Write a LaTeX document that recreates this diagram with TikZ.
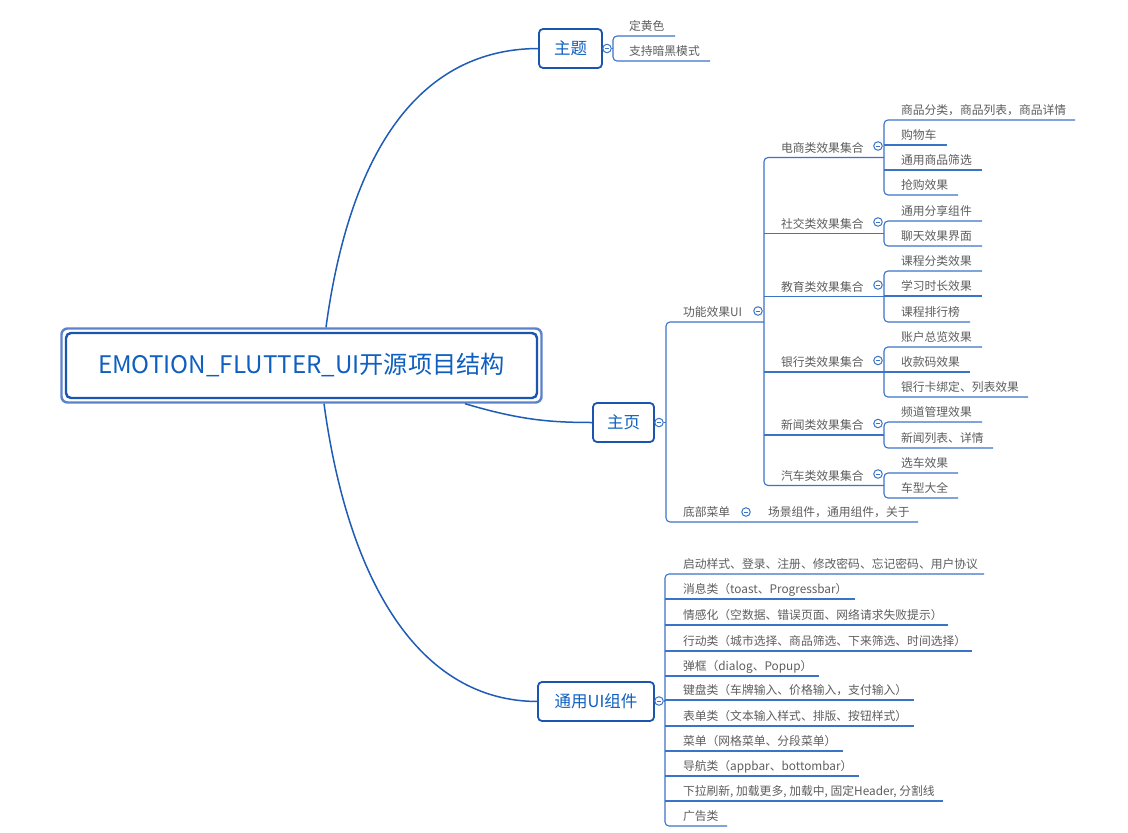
\documentclass[tikz,border=0pt]{standalone}
\usepackage{fontspec}
\setmainfont{Noto Sans CJK SC}
\usetikzlibrary{fit}
\definecolor{lineblue}{HTML}{3A74C8}
\definecolor{curveblue}{HTML}{1F5CB5}
\definecolor{topicblue}{HTML}{1A55B0}
\definecolor{textblue}{HTML}{0F5FC0}
\definecolor{leafgray}{HTML}{5E5E5E}
\definecolor{outerblue}{HTML}{5B82CA}
\newcommand\leafnode[5]{\node[leaf] (#1) at (#2,#3-5.2) {#5}; \coordinate (#1-e) at (#4,#3);}
\newcommand\catnode[3]{\node[leaf] (#1) at (781,#2-5.2) {#3}; \node[tog] (#1-t) at (878,#2-11.5) {}; \coordinate (#1-e) at (884,#2);}
\begin{document}
\begin{tikzpicture}[x=1pt,y=-1pt,
  ln/.style={draw=lineblue,line width=1.1pt},
  br/.style={ln,rounded corners=4pt},
  cv/.style={draw=curveblue,line width=1.5pt},
  leaf/.style={anchor=base west,inner sep=0pt,outer sep=0pt,text=leafgray,font=\fontsize{11.8}{14}\selectfont},
  topic/.style={draw=topicblue,line width=1.8pt,rounded corners=4pt,fill=white,text=textblue,font=\fontsize{16.5}{20}\selectfont,minimum height=39pt,inner sep=0pt,outer sep=0pt},
  tog/.style={circle,draw=lineblue,line width=1pt,fill=white,minimum size=8.5pt,inner sep=0pt,
     path picture={\draw[lineblue,line width=0.9pt] ([xshift=-2.3pt]path picture bounding box.center) -- ([xshift=2.3pt]path picture bounding box.center);}},
]
\useasboundingbox[fill=white] (0,0) rectangle (1128,833);

% root
\node[draw=topicblue,line width=2.4pt,rounded corners=5pt,fill=white,minimum width=471pt,minimum height=65pt,inner sep=0pt,outer sep=0pt,text=textblue,font=\fontsize{24.2}{28}\selectfont] (root) at (301.5,365.5) {EMOTION\_FLUTTER\_UI开源项目结构};
\node[fit=(root),inner sep=4.5pt,draw=outerblue,line width=2.4pt,rounded corners=6pt] (rootframe) {};

% topics
\node[topic,minimum width=63pt] (zt) at (570.5,48.5) {主题};
\node[topic,minimum width=61pt] (zy) at (623.5,422.5) {主页};
\node[topic,minimum width=116pt] (ty) at (596,701.5) {通用UI组件};

% curves
\draw[cv] ([xshift=24.5pt]rootframe.north) .. controls (350,150) and (420,48.5) .. (zt.west);
\draw[cv] ([xshift=163.5pt]rootframe.south) .. controls (520,420) and (550,422.5) .. (zy.west);
\draw[cv] ([xshift=22.5pt]rootframe.south) .. controls (348,580) and (418,701.5) .. (ty.west);

% toggles of topics
\node[tog] (zt-t) at (607,48.5) {};
\node[tog] (zy-t) at (659,422.5) {};
\node[tog] (ty-t) at (659,701) {};

% bracket x coordinates
\coordinate (b-zt) at (613,0);
\coordinate (b-zy) at (666,0);
\coordinate (b-gn) at (764,0);
\coordinate (b-cat) at (884,0);
\coordinate (b-ty) at (665,0);

% ===== 主题 =====
\leafnode{zt1}{629}{36}{675}{定黄色}
\leafnode{zt2}{629}{61}{710}{支持暗黑模式}
\draw[ln] (zt-t.east) -- (zt-t.east -| b-zt);
\draw[br] (zt1-e) -- (zt1-e -| b-zt) -- (zt2-e -| b-zt) -- (zt2-e);

% ===== 主页 =====
\node[leaf] (gn) at (683,322-5.2) {功能效果UI};
\node[tog] (gn-t) at (758,311) {};
\coordinate (gn-e) at (764,322);
\node[leaf] (db) at (683,522-5.2) {底部菜单};
\node[tog] (db-t) at (746,512) {};
\node[leaf] (db1) at (768,522-5.2) {场景组件，通用组件，关于};
\coordinate (db-e) at (918,522);
\draw[ln] (zy-t.east) -- (zy-t.east -| b-zy);
\draw[br] (gn-e) -- (gn-e -| b-zy) -- (db-e -| b-zy) -- (db-e);

% categories
\catnode{ds}{157.5}{电商类效果集合}
\catnode{sj}{233.5}{社交类效果集合}
\catnode{jy}{296.5}{教育类效果集合}
\catnode{yh}{372}{银行类效果集合}
\catnode{xw}{435}{新闻类效果集合}
\catnode{qc}{485.5}{汽车类效果集合}
\draw[br] (ds-e) -- (ds-e -| b-gn) -- (qc-e -| b-gn) -- (qc-e);
\foreach \c in {sj,jy,yh,xw} \draw[ln] (\c-e -| b-gn) -- (\c-e);

% 电商
\leafnode{ds1}{901}{120}{1075}{商品分类，商品列表，商品详情}
\leafnode{ds2}{901}{145}{947}{购物车}
\leafnode{ds3}{901}{170}{982}{通用商品筛选}
\leafnode{ds4}{901}{195}{958}{抢购效果}
\draw[br] (ds1-e) -- (ds1-e -| b-cat) -- (ds4-e -| b-cat) -- (ds4-e);
\foreach \c in {ds2,ds3} \draw[ln] (\c-e -| b-cat) -- (\c-e);
% 社交
\leafnode{sj1}{901}{221}{982}{通用分享组件}
\leafnode{sj2}{901}{246}{982}{聊天效果界面}
\draw[br] (sj1-e) -- (sj1-e -| b-cat) -- (sj2-e -| b-cat) -- (sj2-e);
% 教育
\leafnode{jy1}{901}{271}{982}{课程分类效果}
\leafnode{jy2}{901}{296}{982}{学习时长效果}
\leafnode{jy3}{901}{322}{970}{课程排行榜}
\draw[br] (jy1-e) -- (jy1-e -| b-cat) -- (jy3-e -| b-cat) -- (jy3-e);
\draw[ln] (jy2-e -| b-cat) -- (jy2-e);
% 银行
\leafnode{yh1}{901}{347}{982}{账户总览效果}
\leafnode{yh2}{901}{372}{970}{收款码效果}
\leafnode{yh3}{901}{397}{1028}{银行卡绑定、列表效果}
\draw[br] (yh1-e) -- (yh1-e -| b-cat) -- (yh3-e -| b-cat) -- (yh3-e);
\draw[ln] (yh2-e -| b-cat) -- (yh2-e);
% 新闻
\leafnode{xw1}{901}{422}{982}{频道管理效果}
\leafnode{xw2}{901}{448}{993}{新闻列表、详情}
\draw[br] (xw1-e) -- (xw1-e -| b-cat) -- (xw2-e -| b-cat) -- (xw2-e);
% 汽车
\leafnode{qc1}{901}{473}{958}{选车效果}
\leafnode{qc2}{901}{498}{958}{车型大全}
\draw[br] (qc1-e) -- (qc1-e -| b-cat) -- (qc2-e -| b-cat) -- (qc2-e);

% ===== 通用UI组件 =====
\leafnode{ty1}{683}{574}{984}{启动样式、登录、注册、修改密码、忘记密码、用户协议}
\leafnode{ty2}{683}{599}{855}{消息类（toast、Progressbar）}
\leafnode{ty3}{683}{625}{948}{情感化（空数据、错误页面、网络请求失败提示）}
\leafnode{ty4}{683}{651}{972}{行动类（城市选择、商品筛选、下来筛选、时间选择）}
\leafnode{ty5}{683}{676}{819}{弹框（dialog、Popup）}
\leafnode{ty6}{683}{700}{914}{键盘类（车牌输入、价格输入，支付输入）}
\leafnode{ty7}{683}{726}{914}{表单类（文本输入样式、排版、按钮样式）}
\leafnode{ty8}{683}{751}{843}{菜单（网格菜单、分段菜单）}
\leafnode{ty9}{683}{776}{859}{导航类（appbar、bottombar）}
\leafnode{ty10}{683}{801}{943}{下拉刷新, 加载更多, 加载中, 固定Header, 分割线}
\leafnode{ty11}{683}{826}{727}{广告类}
\draw[ln] (ty-t.east) -- (ty-t.east -| b-ty);
\draw[br] (ty1-e) -- (ty1-e -| b-ty) -- (ty11-e -| b-ty) -- (ty11-e);
\foreach \c in {ty2,ty3,ty4,ty5,ty6,ty7,ty8,ty9,ty10} \draw[ln] (\c-e -| b-ty) -- (\c-e);
\end{tikzpicture}
\end{document}
